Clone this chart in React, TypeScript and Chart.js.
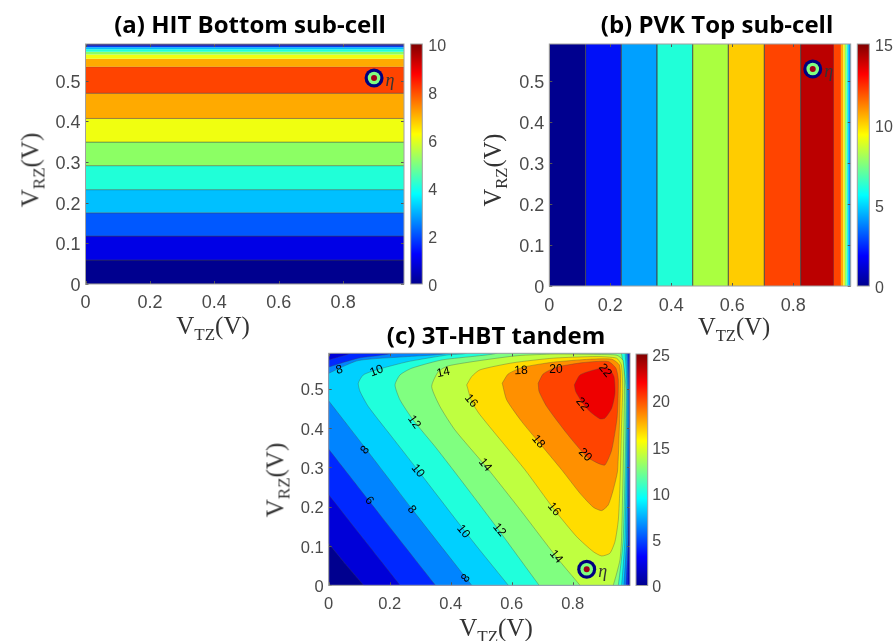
import React, { useEffect, useRef } from "react";
import { Chart, registerables } from "chart.js";

Chart.register(...registerables);

type Pt = [number, number];

// ---- Panel (a): horizontal bands in V_RZ
const bottomEdges = [0, 0.059, 0.118, 0.175, 0.232, 0.291, 0.349, 0.407, 0.469, 0.534, 0.554, 0.564, 0.571, 0.577, 0.582, 0.586, 0.59];
const bottomColors = ["#00008f", "#0000e6", "#0058ff", "#00c0ff", "#20ffd8", "#8cff64", "#f0ff10", "#ffaa00", "#ff4400", "#ffaa00", "#f0ff10", "#8cff64", "#20ffd8", "#00c0ff", "#0040f0", "#00008f"];
const bottomEta: Pt = [0.896, 0.5066];

// ---- Panel (b): vertical bands in V_TZ
const topEdges = [0, 0.119, 0.236, 0.353, 0.47, 0.587, 0.705, 0.824, 0.933, 0.956, 0.964, 0.969, 0.975, 0.98, 0.99];
const topColors = ["#00008f", "#0010f8", "#00a0ff", "#20ffd8", "#aaff40", "#ffcc00", "#ff4400", "#bb0000", "#ff4400", "#ffaa00", "#f0f010", "#8cff64", "#20ffd8", "#00a0ff"];
const topEta: Pt = [0.8636, 0.529];

// ---- Panel (c): contour outlines (paths run slightly past the axes and are clipped)
const contour2: Pt[] = [[-0.03, 0.135], [0.057, 0.052], [0.114, 0], [0.144, -0.03], [1.05, -0.05], [1.05, 0.65], [0.05, 0.65], [0.02, 0.6], [0, 0.585], [-0.03, 0.57]];
const contour4: Pt[] = [[-0.03, 0.26], [0.117, 0.115], [0.234, 0], [0.264, -0.03], [0.979, -0.03], [0.981, 0], [0.984, 0.2], [0.987, 0.5], [0.985, 0.59], [0.983, 0.62], [0.09, 0.62], [0.07, 0.59], [0.03, 0.58], [0, 0.573], [-0.03, 0.565]];
const contour6: Pt[] = [[-0.03, 0.376], [0.13, 0.217], [0.35, 0], [0.38, -0.03], [0.973, -0.03], [0.975, 0], [0.982, 0.12], [0.985, 0.5], [0.981, 0.59], [0.978, 0.62], [0.24, 0.62], [0.206, 0.59], [0.1, 0.578], [0, 0.555], [-0.03, 0.545]];
const contour8: Pt[] = [[-0.03, 0.499], [0.119, 0.35], [0.27, 0.197], [0.469, 0], [0.499, -0.03], [0.965, -0.03], [0.968, 0], [0.977, 0.12], [0.981, 0.5], [0.977, 0.59], [0.974, 0.62], [0.45, 0.62], [0.39, 0.59], [0.26, 0.5817], [0.097, 0.5715], [0, 0.539], [-0.03, 0.525]];
const contour10: Pt[] = [[0.619, -0.03], [0.589, 0], [0.496, 0.089], [0.441, 0.143], [0.294, 0.291], [0.2066, 0.378], [0.13, 0.4545], [0.103, 0.4926], [0.097, 0.514], [0.1135, 0.535], [0.157, 0.548], [0.261, 0.569], [0.392, 0.586], [0.45, 0.59], [0.52, 0.62], [0.966, 0.62], [0.972, 0.59], [0.978, 0.5], [0.9715, 0.12], [0.9605, 0], [0.955, -0.03]];
const contour12: Pt[] = [[0.72, -0.03], [0.69, 0], [0.5616, 0.136], [0.496, 0.204], [0.4085, 0.293], [0.3485, 0.353], [0.2774, 0.42], [0.2338, 0.4715], [0.2174, 0.5097], [0.2338, 0.535], [0.272, 0.552], [0.3705, 0.573], [0.49, 0.5835], [0.55, 0.59], [0.62, 0.62], [0.95, 0.62], [0.96, 0.59], [0.975, 0.5], [0.966, 0.12], [0.9497, 0], [0.94, -0.03]];
const contour14: Pt[] = [[0.854, -0.03], [0.824, 0], [0.7475, 0.071], [0.63, 0.19], [0.5158, 0.3019], [0.414, 0.395], [0.365, 0.4545], [0.3377, 0.5054], [0.3594, 0.5435], [0.392, 0.558], [0.5, 0.572], [0.62, 0.584], [0.74, 0.588], [0.88, 0.587], [0.945, 0.585], [0.965, 0.572], [0.97, 0.5], [0.9605, 0.1237], [0.955, 0.0644], [0.933, 0], [0.915, -0.03]];
const contour16: Pt[] = [[0.4525, 0.5097], [0.469, 0.531], [0.496, 0.548], [0.605, 0.566], [0.736, 0.5776], [0.879, 0.5817], [0.944, 0.5776], [0.96, 0.56], [0.964, 0.5], [0.96, 0.4], [0.955, 0.251], [0.9497, 0.166], [0.9387, 0.111], [0.922, 0.0814], [0.895, 0.0746], [0.8676, 0.0855], [0.813, 0.1237], [0.7387, 0.1934], [0.6436, 0.2936], [0.496, 0.4336], [0.469, 0.467], [0.4525, 0.5097]];
const contour18: Pt[] = [[0.569, 0.514], [0.589, 0.5377], [0.638, 0.5547], [0.736, 0.5674], [0.857, 0.575], [0.928, 0.575], [0.953, 0.5606], [0.957, 0.522], [0.9475, 0.293], [0.933, 0.2425], [0.9167, 0.2044], [0.895, 0.19], [0.8676, 0.1985], [0.824, 0.234], [0.764, 0.2936], [0.6872, 0.3654], [0.633, 0.4163], [0.5836, 0.4715], [0.569, 0.514]];
const contour20: Pt[] = [[0.687, 0.514], [0.7036, 0.5377], [0.7475, 0.5547], [0.835, 0.5664], [0.9167, 0.5691], [0.942, 0.552], [0.9497, 0.522], [0.946, 0.429], [0.928, 0.344], [0.906, 0.306], [0.884, 0.31], [0.846, 0.327], [0.78, 0.387], [0.715, 0.4545], [0.69, 0.4926], [0.687, 0.514]];
const contour22: Pt[] = [[0.8053, 0.5097], [0.824, 0.535], [0.8787, 0.5496], [0.9167, 0.552], [0.9354, 0.531], [0.9387, 0.4885], [0.928, 0.45], [0.906, 0.425], [0.8895, 0.4232], [0.8567, 0.4417], [0.8295, 0.467], [0.81, 0.4926], [0.8053, 0.5097]];
const tandemBase: Pt[] = [[-0.05, -0.05], [1.05, -0.05], [1.05, 0.65], [-0.05, 0.65]];
const tandemContours = [tandemBase, contour2, contour4, contour6, contour8, contour10, contour12, contour14, contour16, contour18, contour20, contour22];
const tandemColors = ["#00008f", "#0000d8", "#0028ff", "#0084ff", "#00d0ff", "#20ffdc", "#80ff80", "#bfff40", "#ffdd00", "#ff9000", "#ff4400", "#ee0000"];
const tandemEta: Pt = [0.846, 0.0407];

// contour labels: [text, x, y, rotation in degrees]
const tandemLabels: [string, number, number, number][] = [
  ["8", 0.035, 0.548, -15], ["10", 0.157, 0.545, -20], ["14", 0.376, 0.541, -12], ["16", 0.467, 0.469, 50],
  ["12", 0.28, 0.415, 55], ["8", 0.119, 0.344, -50], ["10", 0.292, 0.291, 50], ["14", 0.513, 0.306, 50],
  ["6", 0.133, 0.215, 50], ["8", 0.272, 0.192, 50], ["10", 0.4415, 0.1366, 50], ["8", 0.45, 0.018, -50],
  ["18", 0.6305, 0.546, -3], ["20", 0.7453, 0.5478, 0], ["22", 0.906, 0.546, 50], ["22", 0.8316, 0.4604, 50],
  ["18", 0.6873, 0.3654, 50], ["20", 0.8404, 0.3317, 45], ["16", 0.739, 0.1933, 50], ["14", 0.7453, 0.0729, 50],
  ["12", 0.5595, 0.1407, 50],
];

const yMax = 0.59;
const jetStops: [number, string][] = [[0, "#00008f"], [0.125, "#0000ff"], [0.375, "#00ffff"], [0.625, "#ffff00"], [0.875, "#ff0000"], [1, "#800000"]];

const lineColor = "rgba(70,70,70,0.42)";
const tickGrey = "#4a4a4a";
const frameGrey = "#a0a0a0";

const poly = (pts: Pt[], color: string, tension: number, width: number) => ({
  data: pts.map(([x, y]) => ({ x, y })),
  showLine: true,
  fill: "shape",
  backgroundColor: color,
  borderColor: lineColor,
  borderWidth: width,
  pointRadius: 0,
  tension,
  capBezierPoints: false,
});

const rect = (x0: number, x1: number, y0: number, y1: number): Pt[] => [[x0, y0], [x1, y0], [x1, y1], [x0, y1], [x0, y0]];

const etaMarker = (p: Pt) =>
  [["#a00018", 3], ["#80ff80", 6.3], ["#00007f", 9.5]].map(([c, r]) => ({
    data: [{ x: p[0], y: p[1] }],
    showLine: false,
    backgroundColor: c as string,
    borderWidth: 0,
    pointRadius: r as number,
    pointHoverRadius: r as number,
  }));

const decor = (eta: Pt | null, labels: typeof tandemLabels, tickLen: number) => ({
  id: "decor",
  afterDatasetsDraw(chart: any) {
    const { ctx, chartArea: a, scales } = chart;
    ctx.save();
    ctx.strokeStyle = "#555";
    ctx.lineWidth = 1;
    ctx.beginPath();
    if (tickLen > 0) {
      for (const t of scales.x.ticks) {
        const px = Math.round(scales.x.getPixelForValue(t.value)) + 0.5;
        ctx.moveTo(px, a.bottom); ctx.lineTo(px, a.bottom - tickLen);
        ctx.moveTo(px, a.top); ctx.lineTo(px, a.top + tickLen);
      }
      for (const t of scales.y.ticks) {
        const py = Math.round(scales.y.getPixelForValue(t.value)) + 0.5;
        ctx.moveTo(a.left, py); ctx.lineTo(a.left + tickLen, py);
        ctx.moveTo(a.right, py); ctx.lineTo(a.right - tickLen, py);
      }
    }
    ctx.stroke();
    ctx.strokeStyle = frameGrey;
    ctx.strokeRect(a.left, a.top, a.right - a.left, a.bottom - a.top);
    ctx.fillStyle = "#000";
    ctx.font = "12px 'Liberation Sans'";
    ctx.textAlign = "center";
    ctx.textBaseline = "middle";
    for (const [text, x, y, rot] of labels) {
      ctx.save();
      ctx.translate(scales.x.getPixelForValue(x), scales.y.getPixelForValue(y));
      ctx.rotate((rot * Math.PI) / 180);
      ctx.fillText(text, 0, 0);
      ctx.restore();
    }
    if (eta) {
      ctx.fillStyle = "#333";
      ctx.font = "italic 18px 'Liberation Serif'";
      ctx.fillText("η", scales.x.getPixelForValue(eta[0]) + 16, scales.y.getPixelForValue(eta[1]) + 3);
    }
    ctx.restore();
  },
});

const noGrid = { display: false, drawTicks: false };

const panelConfig = (o: any) => ({
  type: "scatter",
  data: { datasets: [...etaMarker(o.eta), ...o.bands.slice().reverse()] },
  options: {
    responsive: false,
    animation: false,
    events: [],
    layout: { autoPadding: false, padding: 0 },
    plugins: {
      legend: { display: false },
      tooltip: { enabled: false },
      filler: { propagate: false },
      title: {
        display: true,
        text: o.title,
        color: "#000",
        font: { family: "'Open Sans'", weight: "bold", size: o.titleSize, lineHeight: 1.2 },
        padding: { top: o.titleTop, bottom: o.titleBottom },
      },
    },
    scales: {
      x: {
        type: "linear",
        min: 0,
        max: o.xMax,
        grid: noGrid,
        border: { display: false },
        afterFit: (s: any) => { s.height = o.xHeight; s.paddingLeft = 0; s.paddingRight = 0; },
        ticks: {
          stepSize: 0.2,
          includeBounds: false,
          maxRotation: 0,
          padding: o.xPad,
          color: tickGrey,
          font: { family: "'Liberation Sans'", size: o.tickSize },
          callback: (v: number) => (v === 0 ? "0" : v.toFixed(1)),
        },
      },
      y: {
        type: "linear",
        min: 0,
        max: yMax,
        grid: noGrid,
        border: { display: false },
        afterFit: (s: any) => { s.width = o.yWidth; s.paddingTop = 0; s.paddingBottom = 0; },
        ticks: {
          stepSize: 0.1,
          includeBounds: false,
          padding: 5,
          labelOffset: 2,
          color: tickGrey,
          font: { family: "'Liberation Sans'", size: o.tickSize },
          callback: (v: number) => (v === 0 ? "0" : v.toFixed(1)),
        },
      },
      spacer: {
        type: "linear",
        position: "right",
        grid: noGrid,
        border: { display: false },
        ticks: { display: false },
        afterFit: (s: any) => { s.width = o.padRight; s.paddingTop = 0; s.paddingBottom = 0; },
      },
    },
  },
  plugins: [decor(o.eta, o.labels || [], 3)],
});

const barConfig = (o: any) => ({
  type: "bar",
  data: {
    labels: [""],
    datasets: [{
      data: [[0, o.max]],
      barPercentage: 1,
      categoryPercentage: 1,
      borderWidth: 0,
      backgroundColor: (c: any) => {
        const a = c.chart.chartArea;
        if (!a) return "#000";
        const g = c.chart.ctx.createLinearGradient(0, a.bottom, 0, a.top);
        jetStops.forEach(([s, col]) => g.addColorStop(s, col));
        return g;
      },
    }],
  },
  options: {
    responsive: false,
    animation: false,
    events: [],
    layout: { autoPadding: false, padding: { left: o.padLeft, right: 0, top: o.padTop, bottom: o.padBottom } },
    plugins: { legend: { display: false }, tooltip: { enabled: false } },
    scales: {
      x: { display: false },
      y: {
        position: "right",
        min: 0,
        max: o.max,
        grid: noGrid,
        border: { display: false },
        afterFit: (s: any) => { s.width = o.axisWidth; s.paddingTop = 0; s.paddingBottom = 0; },
        ticks: { stepSize: o.step, padding: o.pad, labelOffset: 2.5, color: tickGrey, font: { family: "'Liberation Sans'", size: 16 } },
      },
    },
  },
  plugins: [decor(null, [], 0)],
});

const bottomBands = bottomColors.map((c, i) => poly(rect(-0.01, 1.01, bottomEdges[i], bottomEdges[i + 1]), c, 0, bottomEdges[i + 1] - bottomEdges[i] < 0.03 ? 0 : 1));
const topBands = topColors.map((c, i) => poly(rect(topEdges[i], topEdges[i + 1], -0.01, 0.61), c, 0, topEdges[i + 1] - topEdges[i] < 0.03 ? 0 : 1));
const tandemBands = tandemContours.map((p, i) => poly(p, tandemColors[i], i === 0 ? 0 : 0.2, 0.8));

const canvases = [
  { left: 0, top: 0, w: 500, h: 334, cfg: panelConfig({ title: "(a) HIT Bottom sub-cell", titleSize: 24, titleTop: 12.1, titleBottom: 3.1, bands: bottomBands, eta: bottomEta, padRight: 96, yWidth: 85.5, xHeight: 50, xMax: 0.989, xPad: 8.5, tickSize: 18 }) },
  { left: 500, top: 0, w: 434, h: 336, cfg: panelConfig({ title: "(b) PVK Top sub-cell", titleSize: 24, titleTop: 11.6, titleBottom: 3.6, bands: topBands, eta: topEta, padRight: 83.3, yWidth: 49.3, xHeight: 50, xMax: 0.988, xPad: 9.5, tickSize: 18 }) },
  { left: 250, top: 320, w: 492, h: 316, cfg: panelConfig({ title: "(c) 3T-HBT tandem", titleSize: 24, titleTop: 2.6, titleBottom: 1.9, bands: tandemBands, eta: tandemEta, labels: tandemLabels, padRight: 112, yWidth: 78.7, xHeight: 50.7, xMax: 0.988, xPad: 9.5, tickSize: 16.5 }) },
  { left: 405, top: 34, w: 60, h: 260, cfg: barConfig({ max: 10, step: 2, padLeft: 5.7, padTop: 10, padBottom: 10, axisWidth: 42.7, pad: 6 }) },
  { left: 852, top: 34, w: 44, h: 262, cfg: barConfig({ max: 15, step: 5, padLeft: 5.3, padTop: 10, padBottom: 10, axisWidth: 26.7, pad: 5.7 }) },
  { left: 630, top: 344, w: 60, h: 252, cfg: barConfig({ max: 25, step: 5, padLeft: 6, padTop: 10, padBottom: 10.5, axisWidth: 42.3, pad: 4.5 }) },
];

const axisLabels = [
  { main: "V", sub: "RZ", x: 30, y: 170, rot: true, size: 25 },
  { main: "V", sub: "TZ", x: 213, y: 325, rot: false, size: 25 },
  { main: "V", sub: "RZ", x: 493, y: 170, rot: true, size: 24.5 },
  { main: "V", sub: "TZ", x: 734, y: 327, rot: false, size: 24.5 },
  { main: "V", sub: "RZ", x: 275, y: 480, rot: true, size: 25 },
  { main: "V", sub: "TZ", x: 496, y: 627, rot: false, size: 25 },
];

function Panel({ spec }: { spec: any }) {
  const ref = useRef<HTMLCanvasElement | null>(null);
  useEffect(() => {
    const chart = new Chart(ref.current as HTMLCanvasElement, spec.cfg as any);
    return () => chart.destroy();
  }, []);
  return <canvas ref={ref} width={spec.w} height={spec.h} style={{ position: "absolute", left: spec.left, top: spec.top, width: spec.w, height: spec.h }} />;
}

export default function App() {
  return (
    <div style={{ position: "absolute", left: 0, top: 0, width: 896, height: 641, overflow: "hidden", background: "#fff" }}>
      {canvases.map((c, i) => <Panel key={i} spec={c} />)}
      {axisLabels.map((l, i) => (
        <span key={i} style={{
          position: "absolute", left: l.x, top: l.y, lineHeight: 1, whiteSpace: "nowrap", color: "#333",
          fontFamily: "'Liberation Serif'", fontSize: l.size,
          transform: `translate(-50%,-50%)${l.rot ? " rotate(-90deg)" : ""}`,
        }}>
          {l.main}<sub style={{ fontSize: l.size * 0.68, lineHeight: 0 }}>{l.sub}</sub>(V)
        </span>
      ))}
    </div>
  );
}
